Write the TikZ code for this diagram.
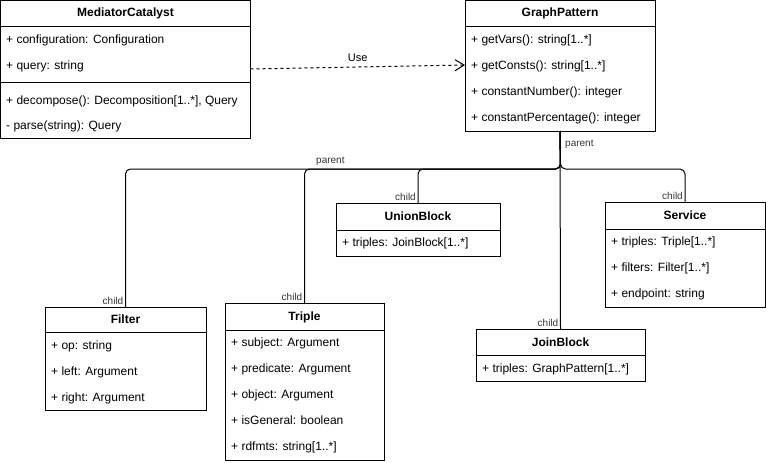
\documentclass[tikz,border=0pt]{standalone}
\usepackage{fontspec}
\setmainfont{Liberation Sans}
\usetikzlibrary{arrows.meta}
\begin{document}
\begin{tikzpicture}[x=1pt,y=-1pt,
  umlbox/.style={draw, line width=1pt, anchor=north west, outer sep=0pt, inner sep=0pt, fill=white},
  sepline/.style={line width=1pt},
  ctitle/.style={inner sep=0pt, font=\fontsize{12}{14}\selectfont\bfseries, text height=8.6pt, text depth=2.4pt},
  attr/.style={anchor=west, inner sep=0pt, font=\fontsize{12}{14}\selectfont, text height=8.6pt, text depth=2.4pt},
  rel/.style={line width=1pt, rounded corners=5pt},
  endlabel/.style={inner sep=0pt, font=\fontsize{10}{12}\selectfont, text=black!80},
]
\useasboundingbox (0,0) rectangle (766,463);

% MediatorCatalyst
\node[umlbox, minimum width=250pt, minimum height=137.5pt] (mc) at (0.5,0.5) {};
\node[ctitle] (mct) at (125.5,13) {MediatorCatalyst};
\draw[sepline] (mc.west |- 0,26) -- (mc.east |- 0,26);
\draw[sepline] (mc.west |- 0,82) -- (mc.east |- 0,82);
\node[attr] (mc1) at (6,40) {+ configuration: Configuration};
\node[attr] (mc2) at (6,66) {+ query: string};
\node[attr] (mc3) at (6,101) {+ decompose(): Decomposition[1..*], Query};
\node[attr] (mc4) at (6,126) {- parse(string): Query};

% GraphPattern
\node[umlbox, minimum width=190pt, minimum height=130.5pt] (gp) at (465,0.5) {};
\node[ctitle] (gpt) at (560,13) {GraphPattern};
\draw[sepline] (gp.west |- 0,26) -- (gp.east |- 0,26);
\node[attr] (gp1) at (471,40) {+ getVars(): string[1..*]};
\node[attr] (gp2) at (471,66) {+ getConsts(): string[1..*]};
\node[attr] (gp3) at (471,92) {+ constantNumber(): integer};
\node[attr] (gp4) at (471,118) {+ constantPercentage(): integer};

% UnionBlock
\node[umlbox, minimum width=164pt, minimum height=53pt] (ub) at (336,203) {};
\node[ctitle] (ubt) at (418,217) {UnionBlock};
\draw[sepline] (ub.west |- 0,230) -- (ub.east |- 0,230);
\node[attr] (ub1) at (342,243) {+ triples: JoinBlock[1..*]};

% Service
\node[umlbox, minimum width=160pt, minimum height=105pt] (sv) at (605,202) {};
\node[ctitle] (svt) at (685,216) {Service};
\draw[sepline] (sv.west |- 0,229) -- (sv.east |- 0,229);
\node[attr] (sv1) at (611,242) {+ triples: Triple[1..*]};
\node[attr] (sv2) at (611,268) {+ filters: Filter[1..*]};
\node[attr] (sv3) at (611,294) {+ endpoint: string};

% Filter
\node[umlbox, minimum width=161pt, minimum height=103pt] (fi) at (45,307) {};
\node[ctitle] (fit) at (125.5,320) {Filter};
\draw[sepline] (fi.west |- 0,332) -- (fi.east |- 0,332);
\node[attr] (fi1) at (51,346) {+ op: string};
\node[attr] (fi2) at (51,372) {+ left: Argument};
\node[attr] (fi3) at (51,398) {+ right: Argument};

% Triple
\node[umlbox, minimum width=159pt, minimum height=157pt] (tr) at (225,303) {};
\node[ctitle] (trt) at (304.5,317) {Triple};
\draw[sepline] (tr.west |- 0,330) -- (tr.east |- 0,330);
\node[attr] (tr1) at (231,343) {+ subject: Argument};
\node[attr] (tr2) at (231,369) {+ predicate: Argument};
\node[attr] (tr3) at (231,395) {+ object: Argument};
\node[attr] (tr4) at (231,421) {+ isGeneral: boolean};
\node[attr] (tr5) at (231,447) {+ rdfmts: string[1..*]};

% JoinBlock
\node[umlbox, minimum width=169pt, minimum height=52pt] (jb) at (476,329) {};
\node[ctitle] (jbt) at (560.5,343) {JoinBlock};
\draw[sepline] (jb.west |- 0,355) -- (jb.east |- 0,355);
\node[attr] (jb1) at (482,369) {+ triples: GraphPattern[1..*]};

% Use dependency
\draw[line width=1pt, dash pattern=on 3pt off 3pt, -{Straight Barb[length=9pt, width=11pt, line width=1pt]}]
  (mc.east |- 0,69) -- (gp.west |- 0,65) node[midway, above=5pt, inner sep=0pt, font=\fontsize{11}{13}\selectfont] (use) {Use};

% Hierarchy connectors
\coordinate (bus) at (560.5,169);
\draw[rel] (gp.south) -- (bus) -| (fi.north);
\draw[rel] (gp.south) -- (bus) -| (tr.north);
\draw[rel] (gp.south) -- (bus) -| (ub.north);
\draw[rel] (gp.south) -- (bus) -| (sv.north);
\draw[rel] (gp.south) -- (jb.north);

% labels
\node[endlabel, anchor=west] (lp1) at (565,144) {parent};
\node[endlabel, anchor=south west] (lp2) at (316,166) {parent};
\node[endlabel, anchor=south east] (lc1) at ([xshift=-2pt,yshift=2pt]fi.north) {child};
\node[endlabel, anchor=south east] (lc2) at ([xshift=-2pt,yshift=2pt]tr.north) {child};
\node[endlabel, anchor=south east] (lc3) at ([xshift=-2pt,yshift=2pt]ub.north) {child};
\node[endlabel, anchor=south east] (lc4) at ([xshift=-2pt,yshift=2pt]sv.north) {child};
\node[endlabel, anchor=south east] (lc5) at ([xshift=-2pt,yshift=2pt]jb.north) {child};
\end{tikzpicture}
\end{document}
